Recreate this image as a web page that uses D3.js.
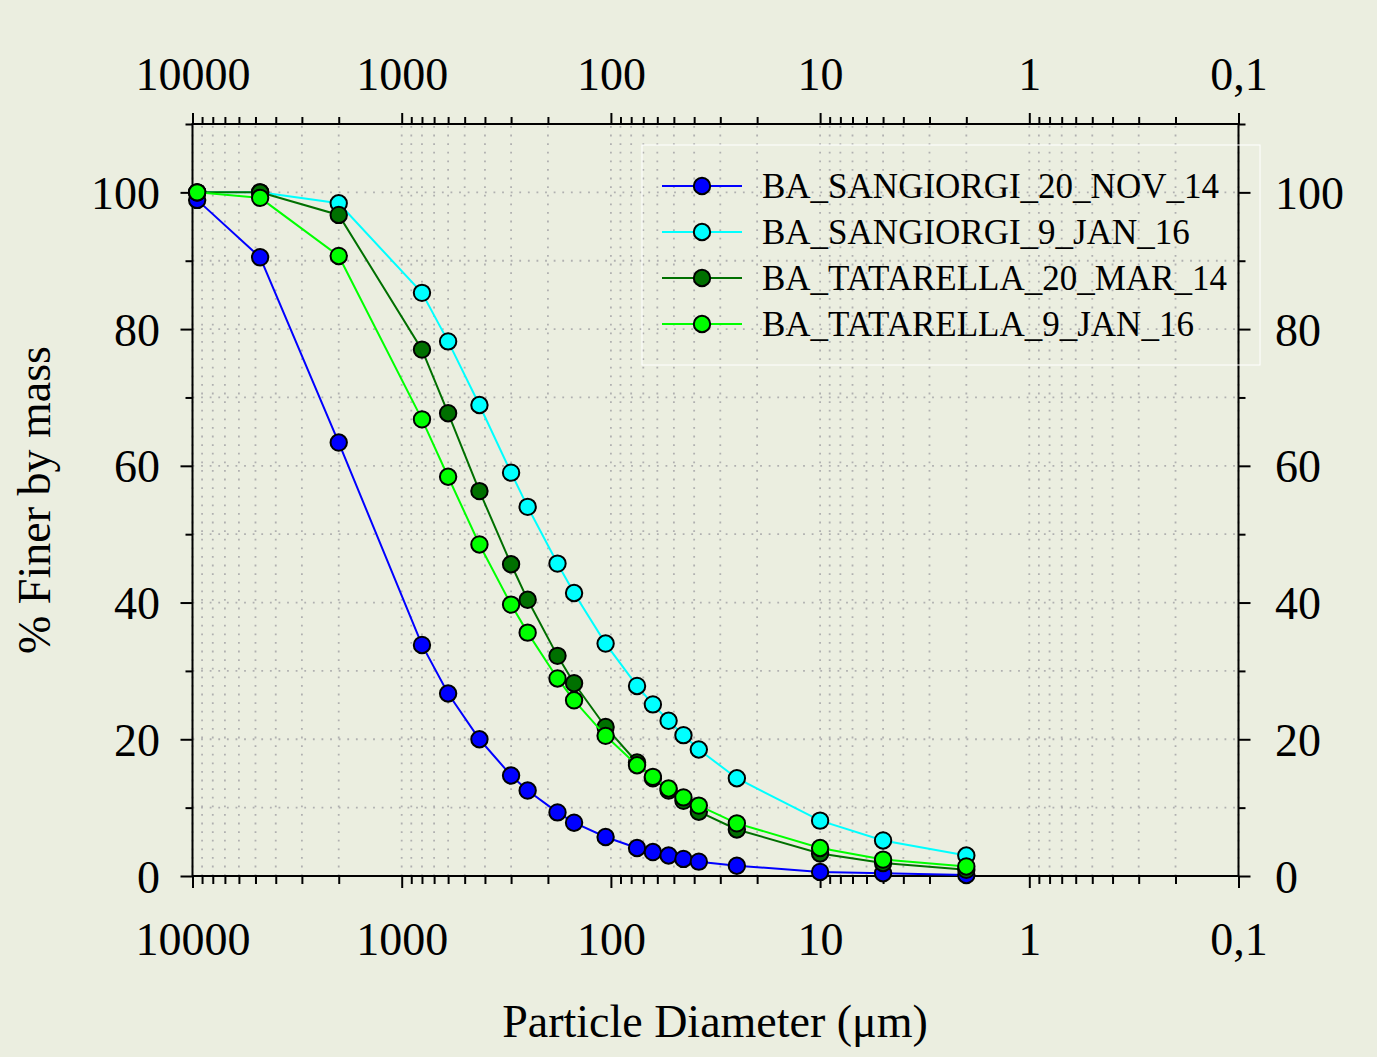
<!DOCTYPE html>
<html>
<head>
<meta charset="utf-8">
<script src="https://cdn.jsdelivr.net/npm/d3@7"></script>
<style>
  body { margin: 0; background: #ebeee0; }
  svg { display: block; }
  text { font-family: "Liberation Serif", "Times New Roman", serif; fill: #000; }
</style>
</head>
<body>
<div id="chart"></div>
<script>
// data
var diameters = [9500, 4750, 2000, 800, 600, 425, 300, 250, 180, 150, 106, 75, 63, 53, 45, 38, 25, 10, 5, 2];
var sangiorgi_nov14 = [98.9, 90.5, 63.4, 33.8, 26.7, 20.0, 14.7, 12.5, 9.3, 7.8, 5.7, 4.1, 3.5, 3.0, 2.5, 2.1, 1.5, 0.6, 0.4, 0.15];
var sangiorgi_jan16 = [100, 100, 98.4, 85.3, 78.2, 68.9, 59.0, 54.0, 45.7, 41.4, 34.0, 27.8, 25.1, 22.7, 20.6, 18.5, 14.3, 8.1, 5.2, 3.0];
var tatarella_mar14 = [100, 100, 96.7, 77.0, 67.7, 56.3, 45.6, 40.4, 32.2, 28.2, 21.8, 16.6, 14.3, 12.5, 11.0, 9.4, 6.8, 3.3, 1.9, 0.9];
var tatarella_jan16 = [100, 99.2, 90.7, 66.8, 58.4, 48.5, 39.7, 35.6, 28.9, 25.7, 20.5, 16.2, 14.5, 12.8, 11.5, 10.3, 7.7, 4.1, 2.4, 1.4];
var series_names = ["BA_SANGIORGI_20_NOV_14", "BA_SANGIORGI_9_JAN_16", "BA_TATARELLA_20_MAR_14", "BA_TATARELLA_9_JAN_16"];
var series_colors = ["#0000ff", "#00ffff", "#007000", "#00ff00"];
var x_major = [10000, 1000, 100, 10, 1, 0.1];
var x_labels = ["10000", "1000", "100", "10", "1", "0,1"];
var y_major = [0, 20, 40, 60, 80, 100];
var y_minor = [10, 30, 50, 70, 90, 110];

var width = 1377, height = 1057;
var plot_left = 192.5, plot_right = 1238.5, plot_top = 124, plot_bottom = 876;

var series = [sangiorgi_nov14, sangiorgi_jan16, tatarella_mar14, tatarella_jan16];

var svg = d3.select("#chart").append("svg")
  .attr("width", width)
  .attr("height", height);

svg.append("rect").attr("width", width).attr("height", height).attr("fill", "#ebeee0");

var x = d3.scaleLog().domain([10000, 0.1]).range([plot_left, plot_right]);
var y = d3.scaleLinear().domain([0, 110]).range([plot_bottom, plot_top]);

// minor log ticks 2..9 in each decade
var x_minor = [];
for (var k = -1; k < 4; k++) {
  for (var m = 2; m < 10; m++) x_minor.push(m * Math.pow(10, k));
}

// dotted grid
var grid = svg.append("g").attr("stroke", "#b0b0b0").attr("stroke-width", 1.8).attr("stroke-dasharray", "1.8,6.8");
grid.selectAll(".gx").data(x_major.concat(x_minor)).enter().append("line")
  .attr("x1", d => x(d)).attr("x2", d => x(d))
  .attr("y1", plot_bottom).attr("y2", plot_top);
grid.selectAll(".gy").data(d3.range(10, 111, 10)).enter().append("line")
  .attr("x1", plot_left).attr("x2", plot_right)
  .attr("y1", d => y(d)).attr("y2", d => y(d));

// axes
function styleAxis(g) {
  g.select(".domain").remove();
  g.selectAll(".tick line").attr("stroke", "#000").attr("stroke-width", 2);
}

svg.append("g").attr("transform", "translate(0," + plot_bottom + ")")
  .call(d3.axisBottom(x).tickValues(x_minor).tickSize(8).tickFormat(""))
  .call(styleAxis);
svg.append("g").attr("transform", "translate(0," + plot_bottom + ")")
  .call(d3.axisBottom(x).tickValues(x_major).tickSize(12).tickFormat((d, i) => x_labels[i]))
  .call(styleAxis)
  .call(g => g.selectAll("text").attr("y", 955 - plot_bottom).attr("dy", null)
    .attr("font-size", 46).attr("font-family", "Liberation Serif"));

svg.append("g").attr("transform", "translate(0," + plot_top + ")")
  .call(d3.axisTop(x).tickValues(x_minor).tickSize(7).tickFormat(""))
  .call(styleAxis);
svg.append("g").attr("transform", "translate(0," + plot_top + ")")
  .call(d3.axisTop(x).tickValues(x_major).tickSize(11).tickFormat((d, i) => x_labels[i]))
  .call(styleAxis)
  .call(g => g.selectAll("text").attr("y", 90 - plot_top).attr("dy", null)
    .attr("font-size", 46).attr("font-family", "Liberation Serif"));

svg.append("g").attr("transform", "translate(" + plot_left + ",0)")
  .call(d3.axisLeft(y).tickValues(y_minor).tickSize(7).tickFormat(""))
  .call(styleAxis);
svg.append("g").attr("transform", "translate(" + plot_left + ",0)")
  .call(d3.axisLeft(y).tickValues(y_major).tickSize(12))
  .call(styleAxis)
  .call(g => g.selectAll("text").attr("x", 160 - plot_left).attr("dy", "0.35em")
    .attr("font-size", 46).attr("font-family", "Liberation Serif"));

svg.append("g").attr("transform", "translate(" + plot_right + ",0)")
  .call(d3.axisRight(y).tickValues(y_minor).tickSize(7).tickFormat(""))
  .call(styleAxis);
svg.append("g").attr("transform", "translate(" + plot_right + ",0)")
  .call(d3.axisRight(y).tickValues(y_major).tickSize(12))
  .call(styleAxis)
  .call(g => g.selectAll("text").attr("x", 1275 - plot_right).attr("dy", "0.35em")
    .attr("font-size", 46).attr("font-family", "Liberation Serif"));

// frame
svg.append("rect")
  .attr("x", plot_left).attr("y", plot_top)
  .attr("width", plot_right - plot_left).attr("height", plot_bottom - plot_top)
  .attr("fill", "none").attr("stroke", "#000").attr("stroke-width", 2);

// series, straight segments between sieve points
var line = d3.line()
  .x(d => x(d[0]))
  .y(d => y(d[1]));

series.forEach(function(vals, s) {
  var pts = diameters.map((d, i) => [d, vals[i]]);
  svg.append("path")
    .datum(pts)
    .attr("d", line)
    .attr("fill", "none")
    .attr("stroke", series_colors[s])
    .attr("stroke-width", 2);
  svg.append("g").selectAll("circle").data(pts).enter().append("circle")
    .attr("cx", d => x(d[0]))
    .attr("cy", d => y(d[1]))
    .attr("r", 8.2)
    .attr("fill", series_colors[s])
    .attr("stroke", "#000")
    .attr("stroke-width", 2);
});

// legend
var legend = svg.append("g");
legend.append("rect")
  .attr("x", 642).attr("y", 145)
  .attr("width", 618).attr("height", 220)
  .attr("fill", "none").attr("stroke", "#ffffff").attr("stroke-width", 1);

var item = legend.selectAll(".item").data(series_names).enter().append("g")
  .attr("transform", (d, i) => "translate(0," + (186 + i * 46) + ")");
item.append("line")
  .attr("x1", 662).attr("x2", 742)
  .attr("stroke", (d, i) => series_colors[i]).attr("stroke-width", 2);
item.append("circle")
  .attr("cx", 702).attr("r", 8.2)
  .attr("fill", (d, i) => series_colors[i])
  .attr("stroke", "#000").attr("stroke-width", 2);
item.append("text")
  .attr("x", 762).attr("y", 12)
  .attr("font-size", 35)
  .text(d => d);

// axis titles
svg.append("text")
  .attr("x", 715).attr("y", 1037)
  .attr("text-anchor", "middle")
  .attr("font-size", 46)
  .text("Particle Diameter (\u03bcm)");

svg.append("text")
  .attr("transform", "translate(50,500) rotate(-90)")
  .attr("text-anchor", "middle")
  .attr("font-size", 46)
  .text("% Finer by mass");
</script>
</body>
</html>
